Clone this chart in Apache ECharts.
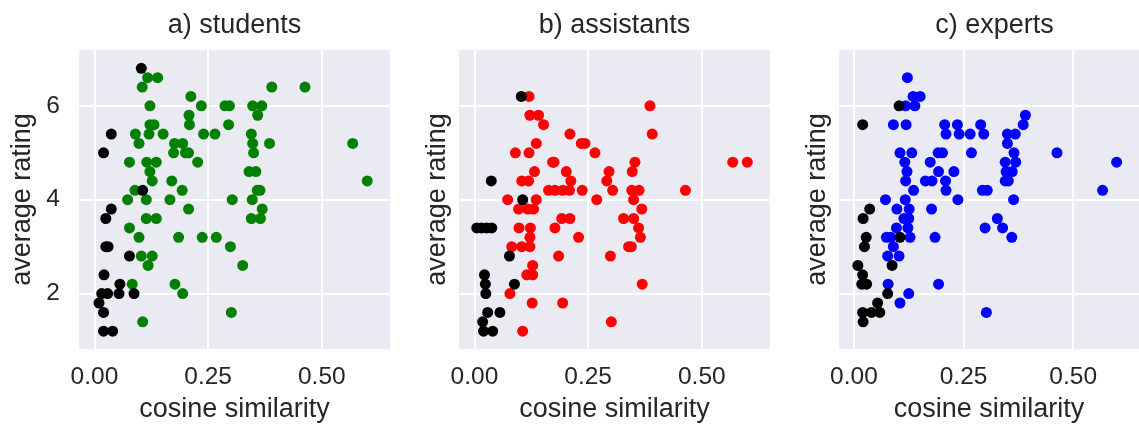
<!DOCTYPE html>
<html><head><meta charset="utf-8">
<script src="https://cdn.jsdelivr.net/npm/echarts@6/dist/echarts.min.js"></script>
<style>html,body{margin:0;padding:0;background:#fff}#c{width:1139px;height:428px}</style>
</head><body><div id="c"></div>
<script>
const panelTitles = ['a) students', 'b) assistants', 'c) experts'];
const panelColors = ['#008000', '#ff0000', '#0000ff'];
const xTickValues = [0, 0.25, 0.5];
const yTickValues = [2, 4, 6];
const xLabelName = 'cosine similarity';
const yLabelName = 'average rating';

const studentsBlack = [[0.103,6.8],[0.037,5.4],[0.020,5.0],[0.106,4.2],[0.037,3.8],[0.025,3.6],[0.025,3.0],[0.030,3.0],[0.077,2.8],[0.021,2.4],[0.056,2.2],[0.016,2.0],[0.029,2.0],[0.054,2.0],[0.087,2.0],[0.010,1.8],[0.020,1.6],[0.020,1.2],[0.040,1.2]];
const studentsColored = [[0.117,6.6],[0.139,6.6],[0.105,6.4],[0.390,6.4],[0.463,6.4],[0.212,6.2],[0.122,6.0],[0.235,6.0],[0.287,6.0],[0.297,6.0],[0.348,6.0],[0.368,6.0],[0.359,5.8],[0.208,5.8],[0.209,5.6],[0.122,5.6],[0.131,5.6],[0.295,5.6],[0.090,5.4],[0.120,5.4],[0.151,5.4],[0.240,5.4],[0.265,5.4],[0.345,5.4],[0.098,5.2],[0.176,5.2],[0.194,5.2],[0.348,5.2],[0.385,5.2],[0.568,5.2],[0.174,5.0],[0.200,5.0],[0.207,5.0],[0.350,5.0],[0.077,4.8],[0.115,4.8],[0.136,4.8],[0.227,4.8],[0.122,4.6],[0.340,4.6],[0.355,4.6],[0.127,4.4],[0.170,4.4],[0.600,4.4],[0.089,4.2],[0.193,4.2],[0.358,4.2],[0.364,4.2],[0.073,4.0],[0.114,4.0],[0.166,4.0],[0.303,4.0],[0.347,4.0],[0.207,3.8],[0.369,3.8],[0.114,3.6],[0.136,3.6],[0.345,3.6],[0.365,3.6],[0.077,3.4],[0.098,3.2],[0.185,3.2],[0.237,3.2],[0.268,3.2],[0.299,3.0],[0.103,2.8],[0.127,2.8],[0.118,2.6],[0.326,2.6],[0.083,2.2],[0.177,2.2],[0.194,2.0],[0.301,1.6],[0.106,1.4]];

const assistantsBlack = [[0.103,6.2],[0.037,4.4],[0.106,4.0],[0.005,3.4],[0.016,3.4],[0.027,3.4],[0.038,3.4],[0.077,2.8],[0.022,2.4],[0.024,2.2],[0.088,2.2],[0.025,2.0],[0.029,1.6],[0.056,1.6],[0.018,1.4],[0.020,1.2],[0.040,1.2]];
const assistantsColored = [[0.120,6.2],[0.386,6.0],[0.122,5.8],[0.141,5.8],[0.152,5.6],[0.210,5.4],[0.391,5.4],[0.136,5.2],[0.235,5.2],[0.243,5.2],[0.090,5.0],[0.120,5.0],[0.265,5.0],[0.172,4.8],[0.175,4.8],[0.353,4.8],[0.568,4.8],[0.600,4.8],[0.132,4.6],[0.202,4.6],[0.296,4.6],[0.347,4.6],[0.104,4.4],[0.119,4.4],[0.212,4.4],[0.291,4.4],[0.163,4.2],[0.177,4.2],[0.194,4.2],[0.209,4.2],[0.237,4.2],[0.304,4.2],[0.346,4.2],[0.362,4.2],[0.464,4.2],[0.073,4.0],[0.136,4.0],[0.269,4.0],[0.350,4.0],[0.097,3.8],[0.117,3.8],[0.130,3.8],[0.368,3.8],[0.192,3.6],[0.210,3.6],[0.328,3.6],[0.350,3.6],[0.098,3.4],[0.123,3.4],[0.177,3.4],[0.361,3.4],[0.122,3.2],[0.229,3.2],[0.365,3.2],[0.082,3.0],[0.104,3.0],[0.122,3.0],[0.339,3.0],[0.345,3.0],[0.185,2.8],[0.299,2.8],[0.128,2.6],[0.115,2.4],[0.128,2.4],[0.369,2.2],[0.078,2.0],[0.127,1.8],[0.194,1.8],[0.301,1.4],[0.106,1.2]];

const expertsBlack = [[0.103,6.0],[0.020,5.6],[0.036,3.8],[0.021,3.6],[0.028,3.2],[0.105,3.2],[0.024,3.0],[0.009,2.6],[0.087,2.6],[0.020,2.4],[0.018,2.2],[0.029,2.2],[0.077,2.0],[0.054,1.8],[0.020,1.6],[0.040,1.6],[0.059,1.6],[0.021,1.4]];
const expertsColored = [[0.122,6.6],[0.135,6.2],[0.151,6.2],[0.118,6.0],[0.139,6.0],[0.391,5.8],[0.386,5.6],[0.090,5.6],[0.119,5.6],[0.207,5.6],[0.236,5.6],[0.289,5.6],[0.210,5.4],[0.240,5.4],[0.265,5.4],[0.296,5.4],[0.350,5.4],[0.368,5.4],[0.350,5.2],[0.105,5.0],[0.132,5.0],[0.192,5.0],[0.202,5.0],[0.268,5.0],[0.365,5.0],[0.463,5.0],[0.116,4.8],[0.174,4.8],[0.345,4.8],[0.369,4.8],[0.599,4.8],[0.121,4.6],[0.193,4.6],[0.228,4.6],[0.347,4.6],[0.361,4.6],[0.118,4.4],[0.163,4.4],[0.178,4.4],[0.209,4.4],[0.345,4.4],[0.352,4.4],[0.136,4.2],[0.210,4.2],[0.293,4.2],[0.304,4.2],[0.567,4.2],[0.072,4.0],[0.117,4.0],[0.237,4.0],[0.364,4.0],[0.098,3.8],[0.126,3.8],[0.177,3.8],[0.114,3.6],[0.125,3.6],[0.327,3.6],[0.097,3.4],[0.123,3.4],[0.299,3.4],[0.339,3.4],[0.074,3.2],[0.084,3.2],[0.128,3.2],[0.185,3.2],[0.360,3.2],[0.090,3.0],[0.077,2.8],[0.103,2.8],[0.078,2.2],[0.193,2.2],[0.125,2.0],[0.105,1.8],[0.302,1.6]];

const coloredSets = [studentsColored, assistantsColored, expertsColored];
const blackSets = [studentsBlack, assistantsBlack, expertsBlack];

const FONT = '"Liberation Sans", Arial, sans-serif';
const TXT = '#262626';
const gridLefts = [79, 459, 839];
const gridW = 311, gridH = 300, gridTop = 50;

const chart = echarts.init(document.getElementById('c'), null, {renderer: 'canvas'});
const option = {
  animation: false,
  textStyle: {fontFamily: FONT},
  title: panelTitles.map((t, i) => ({
    text: t, left: gridLefts[i] + gridW / 2, top: 12, textAlign: 'center', padding: 0,
    textStyle: {fontSize: 27, fontWeight: 'normal', color: TXT, fontFamily: FONT}
  })),
  grid: gridLefts.map(l => ({left: l, top: gridTop, width: gridW, height: gridH,
    show: true, backgroundColor: '#eaeaf2', borderWidth: 0, containLabel: false})),
  xAxis: gridLefts.map((l, i) => ({
    gridIndex: i, type: 'value', min: -0.034, max: 0.65,
    axisLine: {show: false},
    axisTick: {show: false, customValues: xTickValues},
    axisLabel: {customValues: xTickValues, formatter: v => v.toFixed(2), fontSize: 24.5, color: TXT, margin: 16, fontFamily: FONT},
    splitLine: {show: true, lineStyle: {color: '#ffffff', width: 2}},
    name: xLabelName, nameLocation: 'middle', nameGap: 47,
    nameTextStyle: {fontSize: 27, color: TXT, fontFamily: FONT}
  })),
  yAxis: gridLefts.map((l, i) => ({
    gridIndex: i, type: 'value', min: 0.82, max: 7.19,
    axisLine: {show: false},
    axisTick: {show: false, customValues: yTickValues},
    axisLabel: {show: i === 0, customValues: yTickValues, fontSize: 24.5, color: TXT, margin: 19, fontFamily: FONT},
    splitLine: {show: true, lineStyle: {color: '#ffffff', width: 2}},
    name: yLabelName, nameLocation: 'middle', nameGap: i === 0 ? 43 : 8,
    nameTextStyle: {fontSize: 27, color: TXT, fontFamily: FONT}
  })),
  series: []
};
for (let i = 0; i < 3; i++) {
  option.series.push({type: 'scatter', xAxisIndex: i, yAxisIndex: i, data: coloredSets[i],
    symbolSize: 11, itemStyle: {color: panelColors[i], opacity: 1}, silent: true});
  option.series.push({type: 'scatter', xAxisIndex: i, yAxisIndex: i, data: blackSets[i],
    symbolSize: 11, itemStyle: {color: '#000000', opacity: 1}, silent: true});
}
chart.setOption(option);
</script>
</body></html>
